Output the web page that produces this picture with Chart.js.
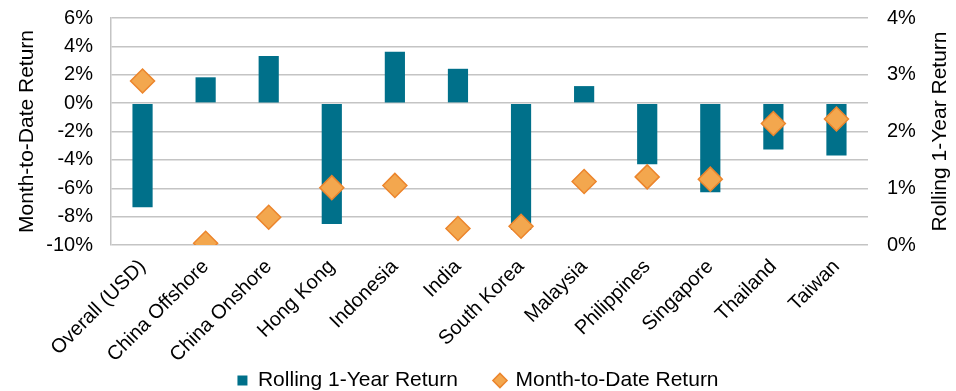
<!DOCTYPE html>
<html lang="en">
<head>
<meta charset="UTF-8">
<title>Rolling and month-to-date returns</title>
<script src="https://cdn.jsdelivr.net/npm/chart.js@4.4.1/dist/chart.umd.min.js"></script>
<style>
  html, body { margin: 0; padding: 0; background: #fff; }
  #box { width: 956px; height: 391px; }
</style>
</head>
<body>
<div id="box"><canvas id="myChart"></canvas></div>
<script>
// data
const categories = ['Overall (USD)', 'China Offshore', 'China Onshore', 'Hong Kong', 'Indonesia', 'India',
  'South Korea', 'Malaysia', 'Philippines', 'Singapore', 'Thailand', 'Taiwan'];
const rollingReturn = [-7.34, 1.82, 3.32, -8.52, 3.62, 2.42, -8.94, 1.2, -4.31, -6.29, -3.26, -3.7];
const mtdReturn = [2.89, 0.03, 0.49, 1.01, 1.05, 0.29, 0.33, 1.12, 1.2, 1.16, 2.14, 2.22];
const leftTicks = [-10, -8, -6, -4, -2, 0, 2, 4, 6];
const rightTicks = [0, 1, 2, 3, 4];

const FONT = 'Liberation Sans, Arial, sans-serif';
Chart.defaults.font.family = FONT;
Chart.defaults.font.size = 20;
Chart.defaults.color = '#000';

// right axis title reads bottom-up in the original
const rightTitle = {
  id: 'rightTitle',
  afterDraw(chart) {
    const ctx = chart.ctx;
    const a = chart.chartArea;
    ctx.save();
    ctx.translate(chart.scales.y1.right - 16, (a.top + a.bottom) / 2);
    ctx.rotate(-Math.PI / 2);
    ctx.font = '21px ' + FONT;
    ctx.fillStyle = '#000';
    ctx.textAlign = 'center';
    ctx.textBaseline = 'middle';
    ctx.fillText('Rolling 1-Year Return', 0, 0);
    ctx.restore();
  }
};

new Chart(document.getElementById('myChart'), {
  type: 'bar',
  data: {
    labels: categories,
    datasets: [{
      label: 'Rolling 1-Year Return',
      data: rollingReturn,
      yAxisID: 'y',
      backgroundColor: '#00708A',
      pointStyle: 'rect',
      barPercentage: 0.32,
      categoryPercentage: 1,
      order: 1
    }, {
      type: 'line',
      label: 'Month-to-Date Return',
      data: mtdReturn,
      yAxisID: 'y1',
      showLine: false,
      pointStyle: 'rectRot',
      pointRadius: 12,
      pointHoverRadius: 12,
      pointBackgroundColor: '#F3A74E',
      pointBorderColor: '#EC852C',
      pointBorderWidth: 1.5,
      backgroundColor: '#F3A74E',
      borderColor: '#EC852C',
      order: 0
    }]
  },
  options: {
    responsive: true,
    maintainAspectRatio: false,
    animation: false,
    layout: { padding: { top: 18, bottom: -10, left: 0, right: 0 } },
    plugins: {
      tooltip: { enabled: false },
      legend: {
        position: 'bottom',
        labels: {
          usePointStyle: true,
          boxWidth: 10,
          boxHeight: 10,
          padding: 2,
          font: { size: 21 },
          generateLabels(chart) {
            const items = Chart.defaults.plugins.legend.labels.generateLabels(chart);
            items.sort((a, b) => a.datasetIndex - b.datasetIndex);
            items[0].text += '      '; // gap between the two entries
            return items;
          }
        }
      }
    },
    scales: {
      x: {
        grid: { display: false },
        border: { display: false },
        ticks: { minRotation: 45, maxRotation: 45, padding: 2, autoSkip: false },
        afterFit: (s) => { s.height = 123; }
      },
      y: {
        position: 'left',
        min: -10,
        max: 6,
        afterBuildTicks: (s) => { s.ticks = leftTicks.map(v => ({ value: v })); },
        ticks: { padding: 2, autoSkip: false, callback: (v) => v + '%' },
        grid: { color: '#C4C4C4', lineWidth: 1.5, drawTicks: true, tickLength: 16, tickColor: 'rgba(0,0,0,0)' },
        border: { display: true, color: '#C4C4C4', width: 1.5 },
        title: { display: true, text: 'Month-to-Date Return', font: { size: 21 }, padding: { top: 15, bottom: 0 } },
        afterFit: (s) => { s.width = 111; }
      },
      y1: {
        position: 'right',
        min: 0,
        max: 4,
        afterBuildTicks: (s) => { s.ticks = rightTicks.map(v => ({ value: v })); },
        ticks: { padding: 2, autoSkip: false, callback: (v) => v + '%' },
        grid: { color: 'rgba(0,0,0,0)', drawTicks: true, tickLength: 17, tickColor: 'rgba(0,0,0,0)' },
        border: { display: false },
        afterFit: (s) => { s.width = 88; }
      }
    }
  },
  plugins: [rightTitle]
});
</script>
</body>
</html>
